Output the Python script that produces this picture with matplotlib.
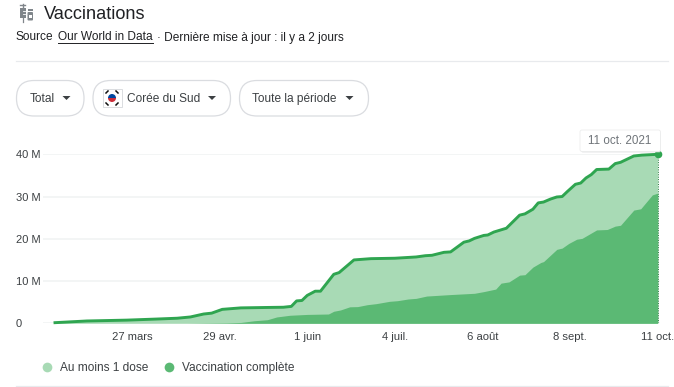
import matplotlib
matplotlib.use("Agg")
import matplotlib.pyplot as plt
from matplotlib.patches import FancyBboxPatch, Rectangle, Polygon, Wedge
from matplotlib.lines import Line2D

plt.rcParams['font.family'] = ['Liberation Sans', 'DejaVu Sans']

# days since 26 Feb 2021
dose1_days = [0,12,27,38,46,51,56,59,63,70,80,86,89,91,93,95,98,100,105,107,112.6,119,128,136,139.5,142,146.5,149,154,156,158,161.5,163,165.3,170,175,177,180,182,184,186.6,189,191,193,196,198,200,202,204,208.6,211,213,218,221,227]
dose1_vals = [0.15,0.55,0.75,1.0,1.2,1.5,2.2,2.4,3.3,3.65,3.75,3.8,4.0,5.3,5.4,6.6,7.6,7.6,11.6,12.0,15.0,15.3,15.4,15.7,16.0,16.1,16.8,16.9,19.2,19.5,20.1,20.8,20.9,21.6,22.5,25.6,25.9,27.0,28.5,28.7,29.4,29.9,30.0,31.2,32.9,33.2,34.4,35.2,36.4,36.5,37.8,38.1,39.6,39.8,40.0]
full_days = [0,50,64.6,70,75,80,83.5,88.5,95,103,105,107.5,111,114,117.6,121,126,129,133,136,140,149,158,161.5,166,168,171,175,177,180,183,184,189,191,193.5,196.5,198.5,204,208,211,213,218,220.6,225,227]
full_vals = [0,0,0.1,0.2,0.6,0.85,1.5,1.9,2.1,2.2,2.85,3.15,3.9,3.95,4.4,4.65,5.2,5.35,5.75,5.9,6.45,6.8,7.1,7.5,8.1,9.5,9.8,11.4,11.5,13.3,14.4,14.6,17.5,17.8,18.9,19.9,20.1,22.1,22.2,23.0,23.2,26.8,27.1,30.4,30.8]
tick_days = [29,62,95,128,161,194,227]
tick_labels = ['27 mars','29 avr.','1 juin','4 juil.','6 août','8 sept.','11 oct.']
y_ticks = [0,10,20,30,40]
y_labels = ['0','10 M','20 M','30 M','40 M']
series_names = ['Au moins 1 dose','Vaccination complète']

W, H = 674, 387
LIGHT, DARK, LINE = '#a8dab5', '#5bb974', '#2fa550'
TXT = '#3c4043'

fig = plt.figure(figsize=(W/100, H/100), dpi=100, facecolor='white')

# chart axes: pixel box x 43..660, y 154.3..323.3
L, R, T, B = 43, 660, 154.3, 323.3
ax = fig.add_axes([L/W, 1-B/H, (R-L)/W, (B-T)/H])
px_per_day = (657.7-55)/227
ax.set_xlim((L-55)/px_per_day, (R-55)/px_per_day)
ax.set_ylim(0, 40)
ax.patch.set_alpha(0)
for s in ax.spines.values():
    s.set_visible(False)
ax.fill_between(dose1_days, dose1_vals, color=LIGHT, lw=0, zorder=2)
ax.fill_between(full_days, full_vals, color=DARK, lw=0, zorder=3)
ax.plot(dose1_days, dose1_vals, color=LINE, lw=2.1, solid_joinstyle='round', zorder=4, clip_on=False)
ax.plot([dose1_days[-1]], [dose1_vals[-1]], 'o', color=LINE, ms=5.5, mew=0, zorder=6, clip_on=False)
ax.plot([dose1_days[-1]]*2, [0, dose1_vals[-1]], color='#2f7d46', lw=0.7, ls=(0,(1,1.5)), zorder=5)
ax.set_yticks(y_ticks, y_labels)
ax.set_xticks(tick_days, tick_labels)
ax.grid(axis='y', color='#f1f3f4', lw=1.2, zorder=1)
ax.tick_params(axis='y', length=0, pad=19.4, labelsize=8.0, labelcolor=TXT)
for lab in ax.get_yticklabels():
    lab.set_horizontalalignment('left')
ax.tick_params(axis='x', length=0, pad=6.5, labelsize=8.1, labelcolor=TXT)
ax.set_axisbelow(True)

# overlay in pixel coordinates
ov = fig.add_axes([0, 0, 1, 1], zorder=10)
ov.set_xlim(0, W); ov.set_ylim(H, 0); ov.axis('off'); ov.patch.set_alpha(0)

# title and source line
ov.text(44, 14.5, 'Vaccinations', fontsize=13.1, color='#202124', va='center')
ov.text(16, 37.5, 'Source', fontsize=8.6, color='#202124', va='center')
ov.text(57.5, 37.5, 'Our World in Data', fontsize=8.6, color='#202124', va='center')
ov.plot([57.5, 153], [43, 43], color='#202124', lw=0.7)
ov.text(157, 37.5, '· Dernière mise à jour : il y a 2 jours', fontsize=8.6, color='#202124', va='center')
ov.plot([16, 668], [61, 61], color='#e8eaed', lw=0.9)
ov.plot([16, 668], [386, 386], color='#e8eaed', lw=0.9)

# icon: syringe and vial
G = '#80868b'
ov.add_patch(Rectangle((19.5, 8), 6, 9.5, fc=G, ec='none'))
ov.plot([22.5, 22.5], [4, 8], color=G, lw=1); ov.plot([20, 25], [5, 5], color=G, lw=1)
ov.plot([22.5, 22.5], [17, 21.5], color=G, lw=0.9)
ov.plot([23, 25], [11, 11], color='white', lw=0.6); ov.plot([23, 25], [13.5, 13.5], color='white', lw=0.6)
ov.add_patch(FancyBboxPatch((27.5, 12), 5.5, 8.5, boxstyle='round,pad=0,rounding_size=1', fc=G, ec='none'))
ov.add_patch(Rectangle((28, 8.5), 4.5, 2.3, fc=G, ec='none'))
ov.add_patch(Rectangle((29, 15), 2.5, 3, fc='white', ec='none'))

# filter pills
pills = [(16.5, 84, 'Total', 29.5, 66.5),
         (93, 230.5, 'Corée du Sud', 127, 212),
         (239.5, 368.5, 'Toute la période', 252.5, 349.5)]
for x0, x1, label, tx, ax_x in pills:
    ov.add_patch(FancyBboxPatch((x0, 80.5), x1-x0, 35.5, boxstyle='round,pad=0,rounding_size=17.5',
                                fc='white', ec='#dadce0', lw=0.9, mutation_aspect=1))
    ov.text(tx, 99, label, fontsize=8.6, color=TXT, va='center')
    ov.add_patch(Polygon([(ax_x-4, 96), (ax_x+4, 96), (ax_x, 100)], fc='#3c4043', ec='none'))

# flag
ov.add_patch(Rectangle((103, 89), 18.5, 17.5, fc='white', ec='#dadce0', lw=0.7))
ov.add_patch(Wedge((112, 98), 4, 0, 180, fc='#cd2e3a', ec='none'))
ov.add_patch(Wedge((112, 98), 4, 180, 360, fc='#0047a0', ec='none'))
for a, b, c, d in [(106, 93, 108, 91), (116, 91, 118, 93), (106, 103, 108, 105), (116, 105, 118, 103)]:
    ov.plot([a, c], [b, d], color='#111111', lw=1.1)

# date tooltip
ov.add_patch(FancyBboxPatch((581, 131.5), 80, 21, boxstyle='round,pad=0,rounding_size=2',
                            fc='#d5d7da', ec='none', alpha=0.6))
ov.add_patch(FancyBboxPatch((580, 130), 80.5, 21.5, boxstyle='round,pad=0,rounding_size=2',
                            fc='white', ec='#eceded', lw=0.6))
ov.text(620, 141, '11 oct. 2021', fontsize=8.4, color='#70757a', va='center', ha='center')

# legend
handles = [Line2D([], [], ls='', marker='o', ms=7, mew=0, color=LIGHT),
           Line2D([], [], ls='', marker='o', ms=7, mew=0, color=DARK)]
ov.legend(handles, series_names, loc='center left', bbox_to_anchor=(41.5/W, 1-368/H),
          bbox_transform=fig.transFigure, frameon=False, ncols=2, fontsize=8.6, labelcolor=TXT,
          handlelength=1, handletextpad=0.55, columnspacing=1.25, borderpad=0, borderaxespad=0)

fig.savefig('out.png', dpi=100, facecolor='white')
